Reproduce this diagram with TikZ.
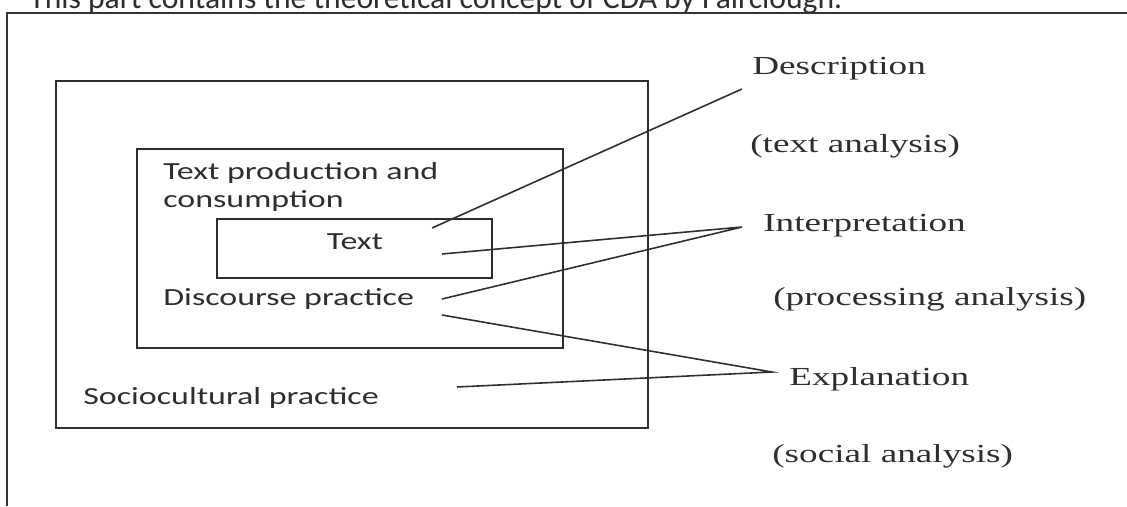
\documentclass[tikz,border=0pt]{standalone}
\usepackage{fontspec}
\newfontfamily\boxfont[FakeStretch=1.38]{Carlito}
\newfontfamily\levelfont[FakeStretch=1.43]{Liberation Serif}
\newfontfamily\capfont{Carlito}
\definecolor{inkgray}{HTML}{2E2E2E}
\tikzset{
  frame/.style={draw=inkgray, line width=1.1pt},
  boxtext/.style={anchor=base west, inner sep=0pt, text=inkgray, font=\boxfont\fontsize{14pt}{15.4pt}\selectfont},
  leveltext/.style={anchor=base west, inner sep=0pt, text=inkgray, font=\levelfont\fontsize{14.8pt}{16pt}\selectfont},
  link/.style={draw=inkgray, line width=0.9pt}
}
\begin{document}
\begin{tikzpicture}
        \useasboundingbox (0,0) rectangle (22.54,10.12);
        \clip (0,0) rectangle (22.54,10.12);

        % Page caption, cut at the top, and page frame
        \node[anchor=base west, inner sep=0pt, text=inkgray, font=\capfont\fontsize{18pt}{20pt}\selectfont] (caption) at (0.58,9.96) {This part contains the theoretical concept of CDA by Fairclough.};
        \draw[line width=1pt, black!80] (0.14,0) -- (0.14,9.86) -- (22.54,9.86);

        % Three nested boxes
        \draw[frame] (1.12,1.56) rectangle (12.96,8.50);
        \draw[frame] (2.74,3.16) rectangle (11.26,7.14);
        \draw[frame] (4.34,4.56) rectangle (9.84,5.74);

        % Texts in the boxes (base of a two-line node is its last line)
        \node[boxtext, align=left] (production) at (3.26,5.98) {Text production and\\consumption};
        \node[boxtext, anchor=base] (text) at (7.10,5.14) {Text};
        \node[boxtext] (discourse) at (3.26,4.02) {Discourse practice};
        \node[boxtext] (socio) at (1.66,2.04) {Sociocultural practice};

        % Levels of analysis
        \node[leveltext] (description) at (15.04,8.64) {Description};
        \node[leveltext] (textanalysis) at (15.00,7.08) {(text analysis)};
        \node[leveltext] (interpretation) at (15.26,5.50) {Interpretation};
        \node[leveltext] (processing) at (15.46,4.02) {(processing analysis)};
        \node[leveltext] (explanation) at (15.78,2.42) {Explanation};
        \node[leveltext] (social) at (15.44,0.88) {(social analysis)};

        % Line ends
        \coordinate (desc-tip) at (14.84,8.34);
        \coordinate (interp-tip) at (14.84,5.58);
        \coordinate (expl-tip) at (15.44,2.68);
        \coordinate (text-in) at (8.64,5.56);
        \coordinate (text-out) at (8.84,5.04);
        \coordinate (disc-up) at (8.84,4.14);
        \coordinate (disc-down) at (8.84,3.82);
        \coordinate (socio-out) at (9.14,2.38);

        % Connectors
        \draw[link] (text-in) -- (desc-tip);
        \draw[link] (text-out) -- (interp-tip) -- (disc-up);
        \draw[link] (disc-down) -- (expl-tip) -- (socio-out);
    \end{tikzpicture}
\end{document}
